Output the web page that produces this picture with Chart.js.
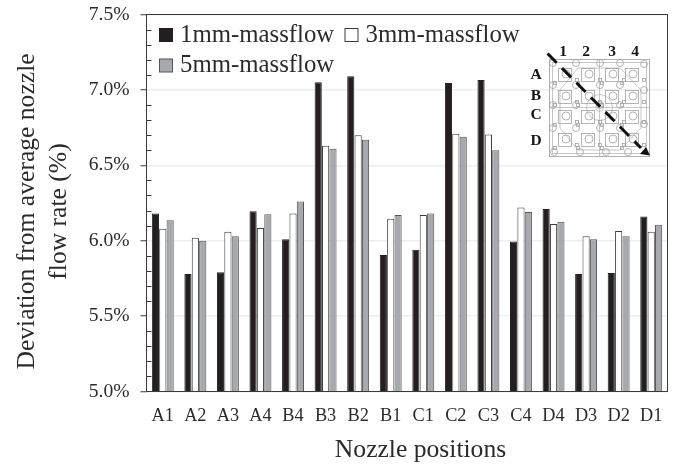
<!DOCTYPE html>
<html>
<head>
<meta charset="utf-8">
<script src="https://cdn.jsdelivr.net/npm/chart.js@4"></script>
<style>
html, body { margin: 0; padding: 0; background: #fff; }
#wrap { position: relative; width: 674px; height: 464px; }
</style>
</head>
<body>
<div id="wrap"><canvas id="nozzleChart" width="674" height="464"></canvas></div>
<script>
const categories = ['A1', 'A2', 'A3', 'A4', 'B4', 'B3', 'B2', 'B1', 'C1', 'C2', 'C3', 'C4', 'D4', 'D3', 'D2', 'D1'];
const mm1 = [6.18, 5.78, 5.79, 6.195, 6.01, 7.05, 7.09, 5.905, 5.94, 7.045, 7.065, 5.995, 6.21, 5.78, 5.785, 6.16];
const mm3 = [6.08, 6.02, 6.06, 6.085, 6.18, 6.63, 6.70, 6.145, 6.17, 6.71, 6.705, 6.22, 6.11, 6.03, 6.065, 6.06];
const mm5 = [6.135, 6.00, 6.03, 6.175, 6.26, 6.61, 6.67, 6.17, 6.18, 6.69, 6.60, 6.19, 6.125, 6.01, 6.03, 6.105];
const minorTicks = [5.1, 5.2, 5.3, 5.4, 5.6, 5.7, 5.8, 5.9, 6.1, 6.2, 6.3, 6.4, 6.6, 6.7, 6.8, 6.9, 7.1, 7.2, 7.3, 7.4];
const insetCols = ['1', '2', '3', '4'];
const insetRows = ['A', 'B', 'C', 'D'];
const yTitleLines = ['Deviation from average nozzle', 'flow rate (%)'];
const xTitle = 'Nozzle positions';

const SERIF = '"Liberation Serif", serif';
const TEXT = '#2b2b2b';

// frame + small inward ticks
const framePlugin = {
    id: 'frame',
    afterDatasetsDraw(chart) {
        const { ctx, chartArea: a, scales: { y } } = chart;
        ctx.save();
        ctx.strokeStyle = '#3a3a3a';
        ctx.lineWidth = 1;
        ctx.strokeRect(a.left, a.top, a.right - a.left, a.bottom - a.top);
        minorTicks.forEach((v) => {
            const py = Math.round(y.getPixelForValue(v)) + 0.5;
            ctx.beginPath();
            ctx.moveTo(a.left, py);
            ctx.lineTo(a.left + 5, py);
            ctx.stroke();
        });
        ctx.restore();
    },
};

// axis titles sit off-centre in the reference, so they are placed by hand
const titlesPlugin = {
    id: 'axisTitles',
    afterDraw(chart) {
        const { ctx } = chart;
        ctx.save();
        ctx.fillStyle = TEXT;
        ctx.font = '25.6px ' + SERIF;
        ctx.textAlign = 'center';
        ctx.textBaseline = 'middle';
        ctx.fillText(xTitle, 420.5, 450);
        ctx.translate(0, 211.5);
        ctx.rotate(-Math.PI / 2);
        ctx.fillText(yTitleLines[0], 0, 27);
        ctx.fillText(yTitleLines[1], 0, 59);
        ctx.restore();
    },
};

// legend: two on the first row, one on the second, inside the plot
const legendPlugin = {
    id: 'insideLegend',
    afterDraw(chart) {
        const { ctx } = chart;
        const spots = [[159, 35], [344.5, 35], [159, 65.5]];
        ctx.save();
        ctx.font = '24.8px ' + SERIF;
        ctx.textBaseline = 'middle';
        chart.data.datasets.forEach((ds, i) => {
            const [x, y] = spots[i];
            ctx.fillStyle = ds.backgroundColor;
            ctx.strokeStyle = ds.borderColor;
            ctx.lineWidth = 1;
            ctx.fillRect(x + 0.5, y - 6.5, 13, 13);
            ctx.strokeRect(x + 0.5, y - 6.5, 13, 13);
            ctx.fillStyle = TEXT;
            ctx.fillText(ds.label, x + 21, y);
        });
        ctx.restore();
    },
};

// nozzle plate sketch in the top right corner
const insetPlugin = {
    id: 'inset',
    afterDraw(chart) {
        const { ctx } = chart;
        const colX = [565, 588, 612, 632];
        const rowY = [75, 97, 117, 140];
        const circle = (x, y, r) => { ctx.beginPath(); ctx.arc(x, y, r, 0, Math.PI * 2); ctx.stroke(); };
        ctx.save();
        ctx.strokeStyle = '#b0b0b0';
        ctx.lineWidth = 1;
        ctx.strokeRect(549.5, 59.5, 100, 97);
        ctx.lineWidth = 0.7;
        ctx.strokeRect(552.5, 62.5, 94, 91);

        // big outline
        ctx.beginPath();
        [[578, 68], [620, 68], [641, 90], [641, 128], [620, 150], [578, 150], [560, 128], [560, 90]].forEach((p, i) => {
            if (i) ctx.lineTo(p[0], p[1]); else ctx.moveTo(p[0], p[1]);
        });
        ctx.closePath();
        ctx.stroke();

        // centre cross
        ctx.beginPath();
        ctx.moveTo(599.5, 60); ctx.lineTo(599.5, 156);
        ctx.moveTo(550, 107.5); ctx.lineTo(649, 107.5);
        ctx.stroke();
        circle(599.5, 107.5, 13);
        circle(599.5, 107.5, 4);

        ctx.strokeStyle = '#a2a2a2';
        ctx.lineWidth = 0.8;
        rowY.forEach((ry) => {
            colX.forEach((cx) => {
                ctx.strokeRect(cx - 6.5, ry - 6.5, 13, 13);
                circle(cx + 1, ry - 1, 4);
                ctx.strokeRect(cx + 10.5, ry + 3.5, 3, 3);
                ctx.strokeRect(cx - 11.5, ry + 6.5, 3, 3);
                circle(cx - 12, ry - 12, 3.5);
            });
        });
        [[554, 152], [580, 152], [606, 152], [628, 152], [644, 64], [644, 90], [644, 124]].forEach((p) => circle(p[0], p[1], 3.5));

        // dashed diagonal + arrow
        ctx.strokeStyle = '#111';
        ctx.lineWidth = 3;
        ctx.setLineDash([13, 7.6]);
        ctx.beginPath();
        ctx.moveTo(547.5, 53.5);
        ctx.lineTo(641, 148);
        ctx.stroke();
        ctx.setLineDash([]);
        ctx.fillStyle = '#111';
        ctx.beginPath();
        ctx.moveTo(650, 155.5);
        ctx.lineTo(640, 154);
        ctx.lineTo(646, 147);
        ctx.closePath();
        ctx.fill();

        ctx.fillStyle = '#151515';
        ctx.font = 'bold 15.5px ' + SERIF;
        ctx.textAlign = 'center';
        ctx.textBaseline = 'middle';
        insetCols.forEach((t, i) => ctx.fillText(t, [563, 586, 612, 635][i], 52));
        insetRows.forEach((t, i) => ctx.fillText(t, 536, [75, 96, 115, 141][i]));
        ctx.restore();
    },
};

new Chart(document.getElementById('nozzleChart'), {
    type: 'bar',
    data: {
        labels: categories,
        datasets: [
            { label: '1mm-massflow', data: mm1, backgroundColor: '#231f20', borderColor: '#231f20', borderWidth: 1 },
            { label: '3mm-massflow', data: mm3, backgroundColor: '#ffffff', borderColor: '#3c3c3c', borderWidth: 1 },
            { label: '5mm-massflow', data: mm5, backgroundColor: '#a7a9ac', borderColor: '#555555', borderWidth: 1 },
        ],
    },
    options: {
        responsive: false,
        animation: false,
        layout: { padding: { left: 0, top: 14.5, right: 6.5, bottom: 0 } },
        categoryPercentage: 0.68,
        barPercentage: 0.97,
        plugins: {
            legend: { display: false },
            tooltip: { enabled: false },
        },
        scales: {
            x: {
                afterFit: (s) => { s.height = 72.5; s.paddingLeft = 0; s.paddingRight = 0; },
                grid: { display: false },
                border: { display: false },
                ticks: { color: TEXT, font: { family: SERIF, size: 18.3 }, padding: 6, maxRotation: 0, autoSkip: false },
            },
            y: {
                min: 5,
                max: 7.5,
                afterFit: (s) => { s.width = 146.5; s.paddingTop = 0; s.paddingBottom = 0; },
                border: { display: false },
                grid: { color: '#eeeeee', lineWidth: 1.5, tickColor: '#3a3a3a', tickLength: 6, tickWidth: 1 },
                ticks: {
                    stepSize: 0.5,
                    color: TEXT,
                    padding: 11,
                    font: { family: SERIF, size: 19.6 },
                    callback: (v) => Number(v).toFixed(1) + '%',
                },
            },
        },
    },
    plugins: [framePlugin, titlesPlugin, legendPlugin, insetPlugin],
});
</script>
</body>
</html>
